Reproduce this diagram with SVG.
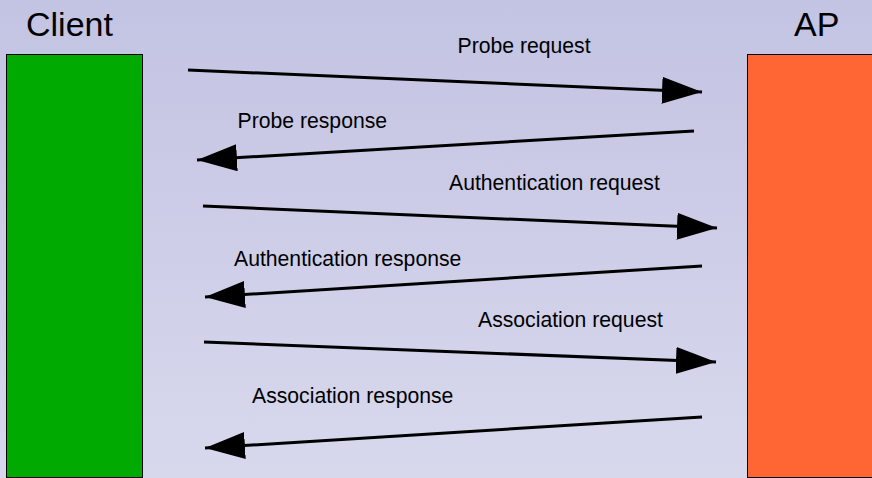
<svg xmlns="http://www.w3.org/2000/svg" width="872" height="478" viewBox="0 0 872 478">
<defs>
<linearGradient id="bg" x1="0" y1="0" x2="0" y2="1">
<stop offset="0" stop-color="#c3c3e3"/>
<stop offset="1" stop-color="#d8d8ed"/>
</linearGradient>
<marker id="ah" viewBox="0 0 40 27" refX="40" refY="13.5" markerWidth="40" markerHeight="27" markerUnits="userSpaceOnUse" orient="auto">
<path d="M0,0 L40,13.5 L0,27 Z" fill="#000"/>
</marker>
<style>
.title{font-family:"Liberation Sans",Arial,sans-serif;font-size:34px;fill:#000}
.lbl{font-family:"Liberation Sans",Arial,sans-serif;font-size:21.2px;fill:#000}
.msg{stroke:#000;stroke-width:3;fill:none;marker-end:url(#ah)}
.box{stroke:#000;stroke-width:1}
</style>
</defs>
<rect x="0" y="0" width="872" height="478" fill="url(#bg)"/>
<g id="client">
<rect class="box" x="6.5" y="54.5" width="136" height="423" fill="#00aa00"/>
<text class="title" x="26" y="36">Client</text>
</g>
<g id="ap">
<rect class="box" x="747.5" y="54.5" width="130" height="423" fill="#ff6633"/>
<text class="title" x="794" y="36">AP</text>
</g>
<g id="connectors">
<line class="msg" x1="188" y1="70" x2="702" y2="92"/>
<line class="msg" x1="694" y1="131" x2="197" y2="160"/>
<line class="msg" x1="203" y1="206" x2="717" y2="228"/>
<line class="msg" x1="702" y1="266" x2="205" y2="297"/>
<line class="msg" x1="204" y1="342" x2="716" y2="362"/>
<line class="msg" x1="702" y1="417" x2="205" y2="448"/>
<text class="lbl" x="457.5" y="52.5">Probe request</text>
<text class="lbl" x="237.5" y="128">Probe response</text>
<text class="lbl" x="449" y="190">Authentication request</text>
<text class="lbl" x="234" y="266">Authentication response</text>
<text class="lbl" x="478" y="327">Association request</text>
<text class="lbl" x="252" y="403">Association response</text>
</g>
</svg>
